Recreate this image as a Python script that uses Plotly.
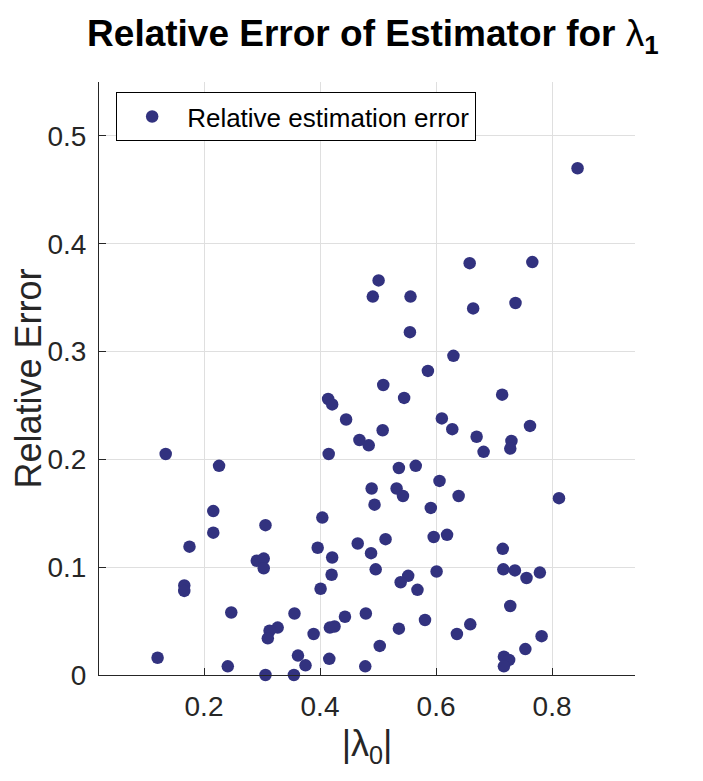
#!/usr/bin/env python3

import plotly.graph_objects as go

# |lambda_0| values and relative error of the lambda_1 estimator
lambda0_abs = [
    0.658, 0.844, 0.658, 0.766, 0.501, 0.491, 0.556, 0.664, 0.737, 0.555,
    0.630, 0.586, 0.509, 0.545, 0.714, 0.610, 0.628, 0.670, 0.682, 0.730,
    0.728, 0.762, 0.508, 0.468, 0.484, 0.536, 0.565, 0.489, 0.532, 0.543,
    0.606, 0.639, 0.812, 0.414, 0.421, 0.445, 0.415, 0.134, 0.226, 0.494,
    0.216, 0.216, 0.306, 0.404, 0.175, 0.291, 0.303, 0.303, 0.396, 0.421,
    0.465, 0.488, 0.496, 0.420, 0.401, 0.166, 0.166, 0.247, 0.356, 0.443,
    0.479, 0.327, 0.313, 0.310, 0.389, 0.417, 0.425, 0.120, 0.241, 0.362,
    0.375, 0.416, 0.478, 0.306, 0.355, 0.591, 0.513, 0.596, 0.619, 0.715,
    0.552, 0.539, 0.568, 0.601, 0.716, 0.736, 0.756, 0.779, 0.728, 0.581,
    0.536, 0.659, 0.636, 0.782, 0.503, 0.754, 0.717, 0.726, 0.717,
]
rel_error = [
    0.508, 0.470, 0.382, 0.383, 0.366, 0.351, 0.351, 0.340, 0.345, 0.318,
    0.296, 0.282, 0.269, 0.257, 0.260, 0.238, 0.228, 0.221, 0.207, 0.217,
    0.210, 0.231, 0.227, 0.218, 0.213, 0.192, 0.194, 0.173, 0.173, 0.166,
    0.180, 0.166, 0.164, 0.256, 0.251, 0.237, 0.205, 0.205, 0.194, 0.158,
    0.152, 0.132, 0.139, 0.146, 0.119, 0.106, 0.108, 0.099, 0.118, 0.109,
    0.122, 0.113, 0.098, 0.093, 0.080, 0.083, 0.078, 0.058, 0.057, 0.054,
    0.057, 0.044, 0.041, 0.034, 0.038, 0.044, 0.045, 0.016, 0.008, 0.018,
    0.009, 0.015, 0.008, 0.000, 0.000, 0.155, 0.126, 0.128, 0.130, 0.117,
    0.092, 0.086, 0.079, 0.096, 0.098, 0.097, 0.090, 0.095, 0.064, 0.051,
    0.043, 0.047, 0.038, 0.036, 0.027, 0.024, 0.017, 0.014, 0.008,
]

x_ticks = [0.2, 0.4, 0.6, 0.8]
x_tick_labels = ['0.2', '0.4', '0.6', '0.8']
y_ticks = [0, 0.1, 0.2, 0.3, 0.4, 0.5]
y_tick_labels = ['0', '0.1', '0.2', '0.3', '0.4', '0.5']

font_family = 'Liberation Sans, Arial, sans-serif'
axis_color = '#262626'
grid_color = '#dfdfdf'
marker_color = '#32327f'

fig = go.Figure()

fig.add_trace(
    go.Scatter(
        x=lambda0_abs,
        y=rel_error,
        mode='markers',
        name='Relative estimation error',
        marker=dict(color=marker_color, size=12.5, line=dict(width=0)),
        cliponaxis=False,
    )
)

# page body has an 8px margin, so the figure is a bit smaller than the window
fig.update_layout(
    width=695,
    height=773,
    margin=dict(l=91, r=68, t=74, b=106),
    paper_bgcolor='white',
    plot_bgcolor='white',
    font=dict(family=font_family, color=axis_color),
    title=dict(
        text='<b>Relative Error of Estimator for </b><span style="font-weight:normal">λ</span><sub><b>1</b></sub>',
        font=dict(family=font_family, size=37, color='black'),
        x=0.511, xref='paper', xanchor='center',
        y=0.967, yref='container', yanchor='middle',
    ),
    showlegend=True,
    legend=dict(
        x=0.032, y=0.983, xanchor='left', yanchor='top',
        bgcolor='white', bordercolor='black', borderwidth=1,
        font=dict(family=font_family, size=26, color='black'),
        itemwidth=60,
    ),
)

fig.update_xaxes(
    range=[0.019, 0.943],
    tickvals=x_ticks, ticktext=x_tick_labels,
    tickfont=dict(size=28, color=axis_color),
    ticks='inside', ticklen=7, tickwidth=1, tickcolor=axis_color,
    ticklabelstandoff=6,
    showline=True, linecolor=axis_color, linewidth=1,
    showgrid=True, gridcolor=grid_color, gridwidth=1,
    zeroline=False,
    title=dict(text='|λ<sub>0</sub>|', font=dict(size=36, color=axis_color), standoff=10),
)
fig.update_yaxes(
    range=[0, 0.55],
    tickvals=y_ticks, ticktext=y_tick_labels,
    tickfont=dict(size=28, color=axis_color),
    ticks='inside', ticklen=7, tickwidth=1, tickcolor=axis_color,
    ticklabelstandoff=6,
    showline=True, linecolor=axis_color, linewidth=1,
    showgrid=True, gridcolor=grid_color, gridwidth=1,
    zeroline=False,
    title=dict(text='Relative Error', font=dict(size=36, color=axis_color), standoff=0),
)

fig.write_html("out.html")
